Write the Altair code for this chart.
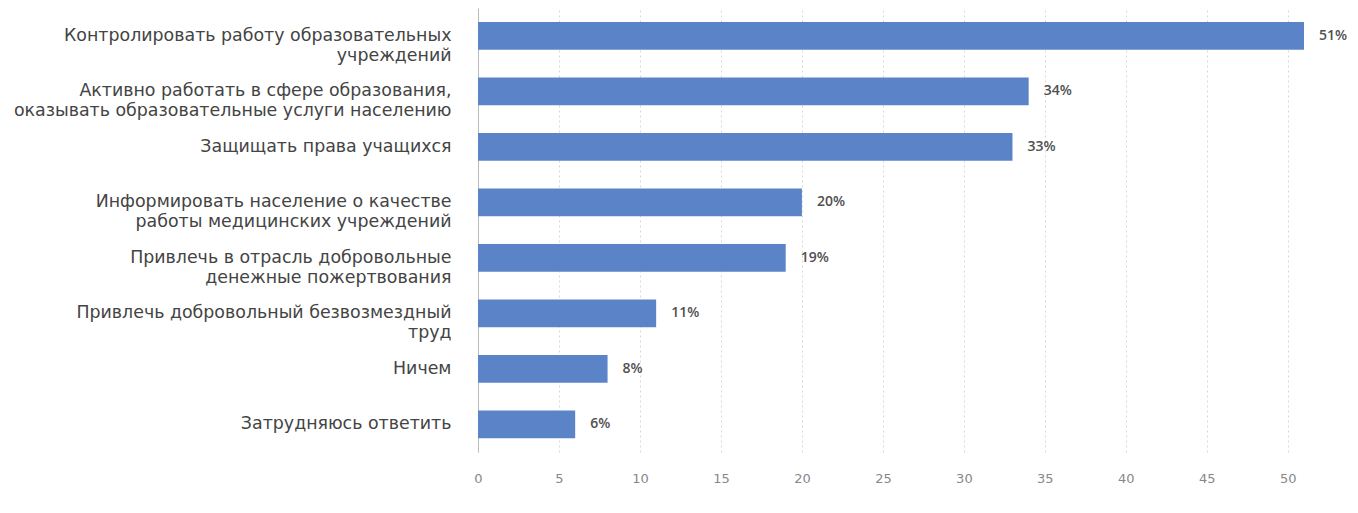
import altair as alt
import pandas as pd

categories = [
    "Контролировать работу образовательных|учреждений",
    "Активно работать в сфере образования,|оказывать образовательные услуги населению",
    "Защищать права учащихся",
    "Информировать население о качестве|работы медицинских учреждений",
    "Привлечь в отрасль добровольные|денежные пожертвования",
    "Привлечь добровольный безвозмездный|труд",
    "Ничем",
    "Затрудняюсь ответить",
]
values = [51, 34, 33, 20, 19, 11, 8, 6]
x_ticks = [0, 5, 10, 15, 20, 25, 30, 35, 40, 45, 50]

df = pd.DataFrame({"cat": categories, "val": values})
df["lbl"] = [f"{v}%" for v in values]

FONT = "DejaVu Sans"

y_enc = alt.Y(
    "cat:N",
    sort=None,
    title=None,
    scale=alt.Scale(paddingInner=0.5, paddingOuter=0.25),
    axis=alt.Axis(
        labelExpr="split(datum.label, '|')",
        labelFont=FONT,
        labelFontSize=17.4,
        labelColor="#444444",
        labelLineHeight=20,
        labelPadding=27,
        labelLimit=0,
        ticks=False,
        domain=True,
        domainColor="#bbbbbb",
        grid=False,
    ),
)

x_enc = alt.X(
    "val:Q",
    title=None,
    scale=alt.Scale(domain=[0, 51], nice=False),
    axis=alt.Axis(
        values=x_ticks,
        labelFont=FONT,
        labelFontSize=13,
        labelColor="#888888",
        labelPadding=20,
        ticks=False,
        domain=False,
        grid=True,
        gridColor="#d8d8d8",
        gridDash=[2, 3],
        labelFlush=False,
    ),
)

bars = alt.Chart(df).mark_bar(color="#5b84c8").encode(y=y_enc, x=x_enc)

text = alt.Chart(df).mark_text(
    align="left", baseline="middle", dx=15, font="Open Sans", fontSize=14,
    fontWeight=600, color="#505050"
).encode(y=y_enc, x=x_enc, text="lbl:N")

chart = (
    alt.layer(bars, text)
    .properties(
        width=826,
        height=444,
        autosize=alt.AutoSizeParams(type="none"),
        padding={"left": 470, "top": 0, "right": 46, "bottom": 50},
    )
    .configure(background="white")
    .configure_view(strokeWidth=0, stroke=None)
)

chart.save("out.html", embed_options={"renderer": "svg", "actions": False})
